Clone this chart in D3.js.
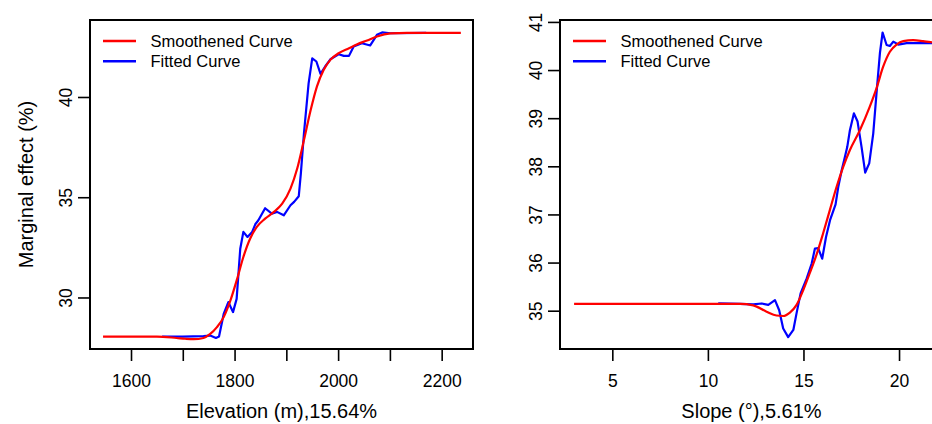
<!DOCTYPE html>
<html><head><meta charset="utf-8">
<script src="https://cdn.jsdelivr.net/npm/d3@7"></script>
<style>
html,body{margin:0;padding:0;background:#fff;overflow:hidden}
svg{display:block;font-family:"Liberation Sans",Arial,sans-serif}
</style></head>
<body>
<svg id="chart" width="932" height="424"></svg>
<script>
// ---------- data ----------
const elevFitX = [1660,1700,1740,1753,1764,1770,1779,1788,1797,1804,1811,1817,1825,1834,1840,1846,1859,1872,1882,1895,1908,1915,1924,1928,1934,1943,1950,1958,1966,1975,1985,2001,2011,2021,2030,2046,2062,2075,2085,2101,2170];
const elevFitY = [28.05,28.05,28.07,28.1,27.98,28.05,29.18,29.77,29.27,29.93,32.43,33.27,33.02,33.27,33.65,33.85,34.45,34.18,34.27,34.1,34.6,34.77,35.05,36.18,38.18,40.68,41.93,41.77,41.15,41.52,41.88,42.13,42.05,42.05,42.52,42.68,42.57,43.1,43.22,43.18,43.2];
const elevSmoothX = [1546,1650,1688,1705,1721,1740,1753,1766,1779,1792,1805,1817,1830,1843,1859,1876,1892,1908,1921,1934,1947,1959,1972,1985,2001,2021,2037,2056,2075,2101,2133,2237];
const elevSmoothY = [28.05,28.05,27.98,27.94,27.92,27.98,28.18,28.52,29.02,29.85,30.93,32.02,32.93,33.52,33.93,34.27,34.68,35.43,36.43,37.85,39.35,40.52,41.35,41.85,42.18,42.43,42.63,42.82,43.02,43.17,43.2,43.2];

const slopeFitX = [10.54,11.68,12.37,12.81,13.16,13.51,13.73,13.94,14.2,14.47,14.64,14.85,15.17,15.43,15.6,15.77,15.98,16.18,16.39,16.68,16.82,17.0,17.17,17.29,17.43,17.64,17.83,18.04,18.23,18.44,18.65,18.82,19.0,19.14,19.35,19.52,19.7,19.96,20.4,21.65,22.0];
const slopeFitY = [35.15,35.14,35.13,35.15,35.12,35.22,35.01,34.63,34.45,34.6,34.95,35.36,35.67,35.98,36.29,36.3,36.08,36.53,36.88,37.21,37.57,37.92,38.2,38.4,38.75,39.1,38.93,38.4,37.87,38.06,38.68,39.51,40.35,40.78,40.52,40.5,40.59,40.53,40.56,40.56,40.56];
const slopeSmoothX = [3.0,11.68,12.37,13.07,13.59,13.94,14.29,14.64,14.99,15.33,15.68,16.03,16.38,16.73,17.08,17.43,17.95,18.47,18.82,19.17,19.52,19.87,20.22,20.74,21.26,21.65,22.0];
const slopeSmoothY = [35.14,35.14,35.11,34.98,34.9,34.89,34.96,35.12,35.43,35.78,36.16,36.61,37.09,37.57,37.99,38.34,38.75,39.24,39.62,40.07,40.38,40.53,40.6,40.62,40.6,40.58,40.57];

const elevXTicks = [1600,1700,1800,1900,2000,2100,2200];
const elevXLabels = ["1600","","1800","","2000","","2200"];
const elevYTicks = [30,35,40];
const slopeXTicks = [5,10,15,20];
const slopeYTicks = [35,36,37,38,39,40,41];
const legendLabels = ["Smoothened Curve","Fitted Curve"];
const seriesColors = ["#ff0000","#0000ff"];

// ---------- drawing ----------
const svg = d3.select("#chart");

function panel(cfg){
  const g = svg.append("g");
  const x = d3.scaleLinear().domain(cfg.xDomain).range([cfg.left, cfg.right]);
  const y = d3.scaleLinear().domain(cfg.yDomain).range([cfg.bottom, cfg.top]);

  // x axis
  const xa = g.append("g").attr("transform", `translate(0,${cfg.bottom})`)
    .call(d3.axisBottom(x).tickValues(cfg.xTicks).tickSize(12)
      .tickFormat((d,i)=>cfg.xLabels ? cfg.xLabels[i] : String(d)));
  xa.select(".domain").remove();
  xa.selectAll("line").attr("stroke","#000").attr("stroke-width",1.6);
  xa.selectAll("text").attr("y",38).attr("dy",0).attr("fill","#000")
    .style("font-size","17.5px").style("font-family","Liberation Sans, Arial, sans-serif");

  // y axis
  const ya = g.append("g").attr("transform", `translate(${cfg.left},0)`)
    .call(d3.axisLeft(y).tickValues(cfg.yTicks).tickSize(12).tickFormat(d=>String(d)));
  ya.select(".domain").remove();
  ya.selectAll("line").attr("stroke","#000").attr("stroke-width",1.6);
  ya.selectAll("text").attr("x",null).attr("dy",0).attr("fill","#000")
    .attr("text-anchor","middle")
    .attr("transform","translate(-18.3,0) rotate(-90)")
    .style("font-size","17.5px").style("font-family","Liberation Sans, Arial, sans-serif");

  // clip
  const cid = "clip" + cfg.id;
  svg.append("clipPath").attr("id",cid).append("rect")
    .attr("x",cfg.left).attr("y",cfg.top).attr("width",cfg.right-cfg.left).attr("height",cfg.bottom-cfg.top);

  const lineLin = d3.line().x(d=>x(d[0])).y(d=>y(d[1]));
  const lineSm = d3.line().x(d=>x(d[0])).y(d=>y(d[1])).curve(d3.curveMonotoneX);

  const fit = d3.zip(cfg.fitX, cfg.fitY);
  const sm = d3.zip(cfg.smX, cfg.smY);
  g.append("path").datum(fit).attr("d",lineLin).attr("fill","none")
    .attr("stroke",seriesColors[1]).attr("stroke-width",2.2).attr("stroke-linejoin","round")
    .attr("clip-path",`url(#${cid})`);
  g.append("path").datum(sm).attr("d",lineSm).attr("fill","none")
    .attr("stroke",seriesColors[0]).attr("stroke-width",2.2).attr("stroke-linejoin","round")
    .attr("clip-path",`url(#${cid})`);

  // box
  g.append("rect").attr("x",cfg.left).attr("y",cfg.top)
    .attr("width",cfg.right-cfg.left).attr("height",cfg.bottom-cfg.top)
    .attr("fill","none").attr("stroke","#000").attr("stroke-width",2);

  // legend
  legendLabels.forEach((lab,i)=>{
    const ly = cfg.top + 21 + i*20.3;
    g.append("line").attr("x1",cfg.left+13).attr("x2",cfg.left+46)
      .attr("y1",ly).attr("y2",ly).attr("stroke",seriesColors[i]).attr("stroke-width",2.6);
    g.append("text").attr("x",cfg.left+60.5).attr("y",ly).attr("dy","0.35em")
      .style("font-size","16.5px").attr("fill","#000").text(lab);
  });

  // x title
  g.append("text").attr("x",(cfg.left+cfg.right)/2).attr("y",418)
    .attr("text-anchor","middle").style("font-size","20px").attr("fill","#000").text(cfg.xTitle);
  if (cfg.yTitle){
    g.append("text").attr("transform",`translate(33.3,${(cfg.top+cfg.bottom)/2}) rotate(-90)`)
      .attr("text-anchor","middle").style("font-size","20px").attr("fill","#000").text(cfg.yTitle);
  }
}

panel({id:1,left:90,right:473,top:20,bottom:349,
  xDomain:[1520.8,2260.5], yDomain:[27.43,43.84],
  xTicks:elevXTicks, xLabels:elevXLabels, yTicks:elevYTicks,
  fitX:elevFitX, fitY:elevFitY, smX:elevSmoothX, smY:elevSmoothY,
  xTitle:"Elevation (m),15.64%", yTitle:"Marginal effect (%)"});

panel({id:2,left:560,right:943,top:20,bottom:349,
  xDomain:[2.263,22.3], yDomain:[34.204,41.04],
  xTicks:slopeXTicks, xLabels:null, yTicks:slopeYTicks,
  fitX:slopeFitX, fitY:slopeFitY, smX:slopeSmoothX, smY:slopeSmoothY,
  xTitle:"Slope (°),5.61%", yTitle:null});
</script>
</body></html>
